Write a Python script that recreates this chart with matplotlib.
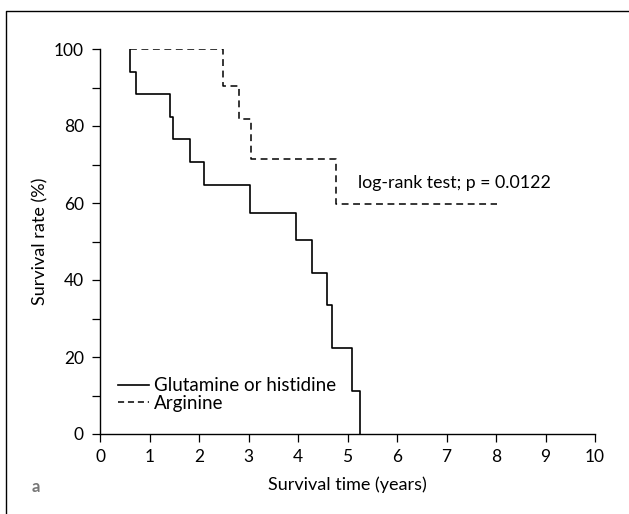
import matplotlib.pyplot as plt
from matplotlib.lines import Line2D

# Kaplan-Meier curves
glu_time = [0.6, 0.6, 0.72, 1.41, 1.48, 1.82, 2.11, 3.03, 3.95, 4.29, 4.59, 4.68, 5.10, 5.26]
glu_surv = [100, 94.1, 88.2, 82.4, 76.5, 70.6, 64.7, 57.5, 50.3, 41.9, 33.5, 22.3, 11.2, 0]

arg_time = [0.6, 2.49, 2.81, 3.05, 4.76, 8.02]
arg_surv = [100, 90.5, 81.8, 71.5, 59.8, 59.8]

x_ticks = list(range(0, 11))
y_ticks = [0, 20, 40, 60, 80, 100]
y_minor = [10, 30, 50, 70, 90]

plt.rcParams['font.family'] = ['Lato', 'DejaVu Sans']

fig = plt.figure(figsize=(6.29, 5.14), dpi=100)
ax = fig.add_axes([100 / 629, 1 - 434 / 514, 495 / 629, 385 / 514])

ax.step(glu_time, glu_surv, where='post', color='black', lw=1.2)
ax.step(arg_time, arg_surv, where='post', color='black', lw=1.1, linestyle=(0, (4.5, 3)))

ax.set_xlim(0, 10)
ax.set_ylim(0, 100)
ax.set_xticks(x_ticks)
ax.set_yticks(y_ticks)
ax.set_yticks(y_minor, minor=True)
ax.tick_params(axis='both', which='both', direction='out', length=5.8, width=0.9, labelsize=12.5)
ax.tick_params(axis='x', pad=5)
ax.tick_params(axis='y', which='major', pad=5.8)
ax.spines['top'].set_visible(False)
ax.spines['right'].set_visible(False)
ax.spines['left'].set_linewidth(1.0)
ax.spines['bottom'].set_linewidth(1.0)

ax.set_xlabel("Survival time (years)", fontsize=13, labelpad=8)
ax.set_ylabel("Survival rate (%)", fontsize=13, labelpad=4)

ax.text(5.21, 65.2, "log-rank test; p = 0.0122", fontsize=12.8, va='center', ha='left')

handles = [Line2D([], [], color='black', lw=1.2),
           Line2D([], [], color='black', lw=1.1, linestyle=(0, (4, 2.5)))]
ax.legend(handles, ["Glutamine or histidine", "Arginine"], loc='lower left',
          bbox_to_anchor=(0.036, 0.058), frameon=False, fontsize=13.5,
          handlelength=1.65, handletextpad=0.3, labelspacing=0.02,
          borderpad=0, borderaxespad=0)

# panel letter and outer frame
fig.text(36 / 629, 1 - 487 / 514, "a", fontsize=12, color='#777777', fontweight='bold',
         ha='center', va='center')
fig.add_artist(Line2D([6 / 629, 6 / 629, 1.0], [0.0, 1 - 11 / 514, 1 - 11 / 514],
                      transform=fig.transFigure, color='black', lw=1.0))

fig.savefig("out.png", dpi=100)
